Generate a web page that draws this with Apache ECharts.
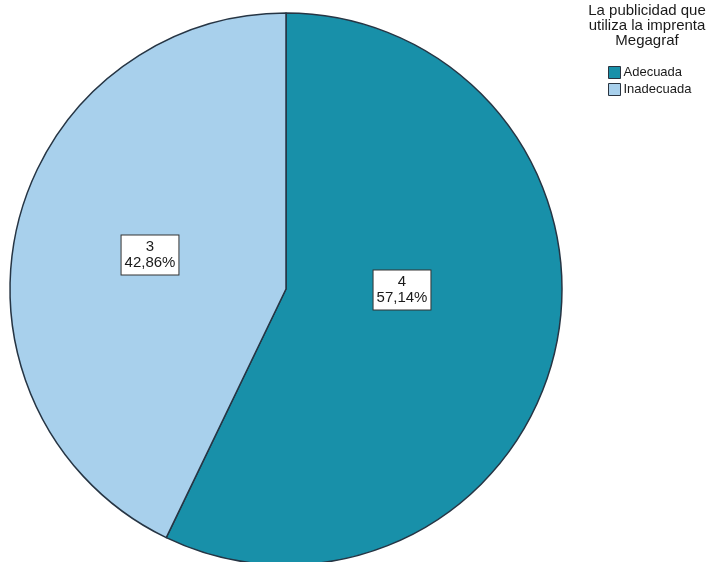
<!DOCTYPE html>
<html>
<head>
<meta charset="utf-8">
<script src="https://cdn.jsdelivr.net/npm/echarts@6/dist/echarts.min.js"></script>
<style>
  html, body { margin: 0; padding: 0; background: #ffffff; }
  #chart { width: 713px; height: 562px; }
</style>
</head>
<body>
<div id="chart"></div>
<script>
// Categories and counts for the pie
const categories = ['Adecuada', 'Inadecuada'];
const counts = [4, 3];
const sliceColors = ['#1890a9', '#a8d0ec'];
const legendTitle = 'La publicidad que\nutiliza la imprenta\nMegagraf';

const total = counts.reduce((a, b) => a + b, 0);
const pieData = categories.map((name, i) => ({
  name: name,
  value: counts[i],
  itemStyle: { color: sliceColors[i] }
}));

// Label anchor points for each slice (pixels)
const labelAnchors = [[402, 290], [150, 255]];

const chart = echarts.init(document.getElementById('chart'), null, { renderer: 'canvas' });
chart.setOption({
  animation: false,
  backgroundColor: '#ffffff',
  title: {
    text: legendTitle,
    left: 647,
    top: 3,
    textAlign: 'center',
    padding: 0,
    textStyle: {
      fontFamily: 'Liberation Sans, Arial, sans-serif',
      fontSize: 15,
      fontWeight: 'normal',
      color: '#1a1a1a',
      lineHeight: 15
    }
  },
  legend: {
    orient: 'vertical',
    left: 608,
    top: 66,
    padding: 0,
    itemWidth: 12,
    itemHeight: 12,
    itemGap: 4,
    icon: 'rect',
    data: categories,
    itemStyle: { borderColor: '#2a3440', borderWidth: 1 },
    textStyle: {
      fontFamily: 'Liberation Sans, Arial, sans-serif',
      fontSize: 13,
      lineHeight: 12,
      color: '#1a1a1a',
      padding: [0, 0, 0, -2]
    }
  },
  series: [{
    type: 'pie',
    center: [286, 289],
    radius: 276,
    startAngle: 90,
    clockwise: true,
    avoidLabelOverlap: false,
    itemStyle: { borderColor: '#263544', borderWidth: 1.5 },
    label: {
      show: true,
      position: 'inside',
      formatter: p => p.value + '\n' + (p.value / total * 100).toFixed(2).replace('.', ',') + '%',
      fontFamily: 'Liberation Sans, Arial, sans-serif',
      fontSize: 15,
      lineHeight: 16,
      color: '#1a1a1a',
      backgroundColor: '#ffffff',
      borderColor: '#333333',
      borderWidth: 1,
      padding: [4, 3, 3, 3],
      align: 'center',
      verticalAlign: 'middle'
    },
    labelLayout: p => ({ x: labelAnchors[p.dataIndex][0], y: labelAnchors[p.dataIndex][1], align: 'center', verticalAlign: 'middle' }),
    emphasis: { disabled: true },
    data: pieData
  }]
});
</script>
</body>
</html>
